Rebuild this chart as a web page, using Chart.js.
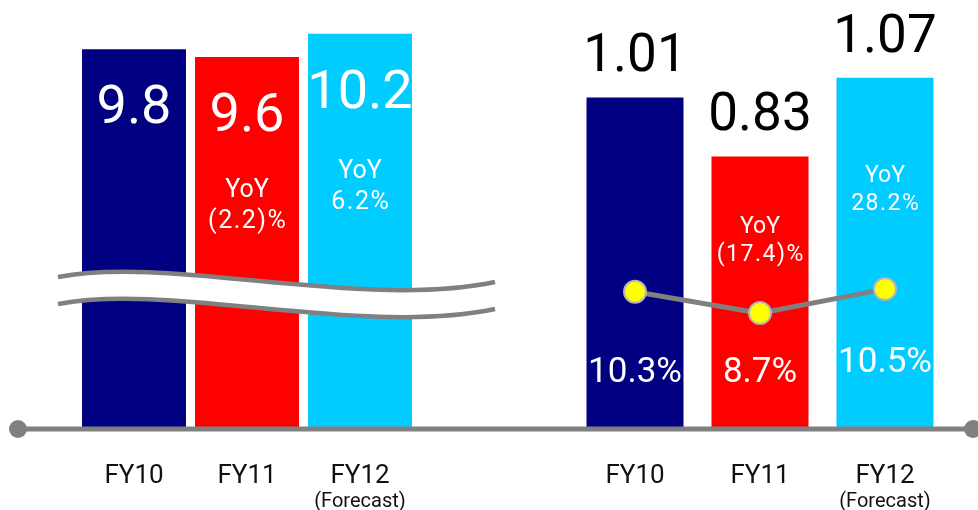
<!DOCTYPE html>
<html>
<head>
<meta charset="utf-8">
<script src="https://cdn.jsdelivr.net/npm/chart.js@4.4.1/dist/chart.umd.min.js"></script>
<style>
  body { margin: 0; background: #fff; }
  #wrap { position: relative; width: 978px; height: 510px; }
  canvas { position: absolute; left: 0; top: 0; }
</style>
</head>
<body>
<div id="wrap">
  <canvas id="salesChart" width="978" height="510"></canvas>
  <canvas id="profitChart" width="978" height="510"></canvas>
</div>
<script>
const categories = ['FY10', 'FY11', 'FY12'];
const categoryNotes = ['', '', '(Forecast)'];
const salesValues = [9.8, 9.6, 10.2];
const salesYoY = ['', '(2.2)%', '6.2%'];
const profitValues = [1.01, 0.83, 1.07];
const profitYoY = ['', '(17.4)%', '28.2%'];
const marginValues = [10.3, 8.7, 10.5];
const barColors = ['#000080', '#ff0000', '#00ccff'];

const FONT = 'Roboto, "Noto Sans", sans-serif';

// texte centré verticalement sur la hauteur des chiffres
function drawText(ctx, text, x, cy, size, color, spacing) {
    ctx.save();
    ctx.font = size + 'px ' + FONT;
    ctx.fillStyle = color;
    ctx.textAlign = 'center';
    ctx.textBaseline = 'alphabetic';
    if (spacing) ctx.letterSpacing = spacing + 'px';
    ctx.fillText(text, x + (spacing || 0) / 2, cy + size * 0.355);
    ctx.restore();
}

function drawNotes(chart) {
    const x = chart.scales.x;
    categoryNotes.forEach((note, i) => {
        if (note) drawText(chart.ctx, note, x.getPixelForValue(i), chart.chartArea.bottom + 71, 20, '#111');
    });
}

const xAxis = {
    type: 'category',
    grid: { display: false },
    border: { display: false },
    ticks: { color: '#111', font: { family: FONT, size: 26 }, padding: 24 },
    afterFit: scale => { scale.height = 81; }
};

// Graphique gauche (chiffre d'affaires, axe coupé)
const salesLabels = {
    id: 'salesLabels',
    afterDatasetsDraw(chart) {
        const ctx = chart.ctx;
        const bars = chart.getDatasetMeta(0).data;
        const yoyOffset = [0, 131, 135];

        // coupure de l'axe
        const g = 27;
        ctx.save();
        ctx.beginPath();
        ctx.moveTo(58, 277);
        ctx.bezierCurveTo(170, 255, 360, 310, 495, 282);
        ctx.lineTo(495, 282 + g);
        ctx.bezierCurveTo(360, 310 + g, 170, 255 + g, 58, 277 + g);
        ctx.closePath();
        ctx.fillStyle = '#fff';
        ctx.fill();
        ctx.strokeStyle = '#808080';
        ctx.lineWidth = 4.5;
        for (const dy of [0, g]) {
            ctx.beginPath();
            ctx.moveTo(58, 277 + dy);
            ctx.bezierCurveTo(170, 255 + dy, 360, 310 + dy, 495, 282 + dy);
            ctx.stroke();
        }
        ctx.restore();

        bars.forEach((bar, i) => {
            drawText(ctx, salesValues[i].toFixed(1), bar.x, bar.y + 55, 54, '#fff');
            if (salesYoY[i]) {
                drawText(ctx, 'YoY', bar.x, bar.y + yoyOffset[i], 25, '#fff');
                drawText(ctx, salesYoY[i], bar.x, bar.y + yoyOffset[i] + 31, 25, '#fff', 1.5);
            }
        });
        drawNotes(chart);
    }
};

new Chart(document.getElementById('salesChart').getContext('2d'), {
    type: 'bar',
    data: {
        labels: categories,
        datasets: [{
            data: salesValues,
            backgroundColor: barColors,
            borderWidth: 0,
            barPercentage: 1,
            categoryPercentage: 0.92
        }]
    },
    options: {
        responsive: false,
        animation: false,
        events: [],
        layout: { autoPadding: false, padding: { left: 77.5, right: 561.5, top: 0, bottom: 0 } },
        plugins: { legend: { display: false }, tooltip: { enabled: false } },
        scales: {
            x: xAxis,
            y: { display: false, min: 0, max: 11.07 }
        }
    },
    plugins: [salesLabels]
});

// Graphique droit (résultat + marge)
const profitLabels = {
    id: 'profitLabels',
    afterDatasetsDraw(chart) {
        const ctx = chart.ctx;
        const area = chart.chartArea;
        const bars = chart.getDatasetMeta(1).data;
        const yoyOffset = [0, 68, 96];
        const pctOffset = [-59, -59, -69];

        bars.forEach((bar, i) => {
            drawText(ctx, profitValues[i].toFixed(2), bar.x, bar.y - 45, 53, '#000');
            if (profitYoY[i]) {
                drawText(ctx, 'YoY', bar.x, bar.y + yoyOffset[i], 23, '#fff');
                drawText(ctx, profitYoY[i], bar.x, bar.y + yoyOffset[i] + 28, 23, '#fff', 1.5);
            }
            drawText(ctx, marginValues[i].toFixed(1) + '%', bar.x, area.bottom + pctOffset[i], 35, '#fff');
        });

        // ligne de base
        ctx.save();
        ctx.strokeStyle = '#808080';
        ctx.fillStyle = '#808080';
        ctx.lineWidth = 5;
        ctx.beginPath();
        ctx.moveTo(18, area.bottom);
        ctx.lineTo(973, area.bottom);
        ctx.stroke();
        for (const cx of [18, 973]) {
            ctx.beginPath();
            ctx.arc(cx, area.bottom, 9, 0, Math.PI * 2);
            ctx.fill();
        }
        ctx.restore();
        drawNotes(chart);
    }
};

new Chart(document.getElementById('profitChart').getContext('2d'), {
    type: 'bar',
    data: {
        labels: categories,
        datasets: [{
            type: 'line',
            data: marginValues,
            yAxisID: 'y2',
            order: 0,
            borderColor: '#808080',
            borderWidth: 5,
            tension: 0,
            pointRadius: 11,
            pointBackgroundColor: '#ffff00',
            pointBorderColor: '#b4b4b4',
            pointBorderWidth: 2
        }, {
            data: profitValues,
            yAxisID: 'y',
            order: 1,
            backgroundColor: barColors,
            borderWidth: 0,
            barPercentage: 1,
            categoryPercentage: 0.776
        }]
    },
    options: {
        responsive: false,
        animation: false,
        events: [],
        layout: { autoPadding: false, padding: { left: 572.5, right: 30.5, top: 0, bottom: 0 } },
        plugins: { legend: { display: false }, tooltip: { enabled: false } },
        scales: {
            x: xAxis,
            y: { display: false, min: 0, max: 1.3067 },
            y2: { display: false, min: 0, max: 32.2 }
        }
    },
    plugins: [profitLabels]
});
</script>
</body>
</html>
